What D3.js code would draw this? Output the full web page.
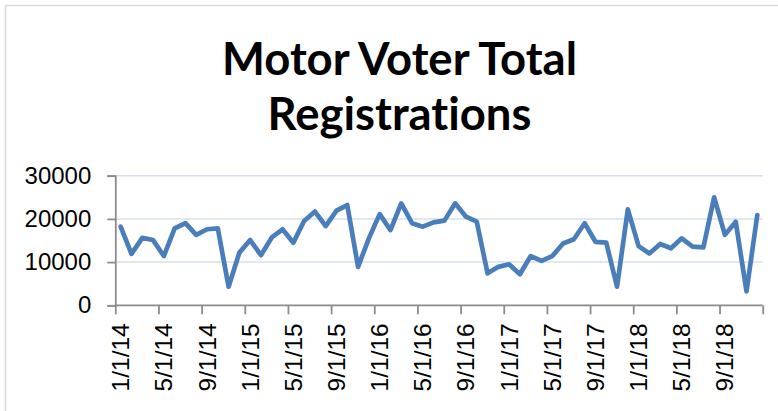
<!DOCTYPE html>
<html>
<head>
<meta charset="utf-8">
<script src="https://cdn.jsdelivr.net/npm/d3@7"></script>
<style>
  html, body { margin: 0; padding: 0; background: #fff; }
  svg { display: block; }
  text { font-variant-ligatures: none; font-feature-settings: "liga" 0, "clig" 0; }
</style>
</head>
<body>
<svg id="chart" width="778" height="411"></svg>
<script>
const titleLines = ["Motor Voter Total", "Registrations"];

const months = [
  "1/1/14","2/1/14","3/1/14","4/1/14","5/1/14","6/1/14","7/1/14","8/1/14","9/1/14","10/1/14","11/1/14","12/1/14",
  "1/1/15","2/1/15","3/1/15","4/1/15","5/1/15","6/1/15","7/1/15","8/1/15","9/1/15","10/1/15","11/1/15","12/1/15",
  "1/1/16","2/1/16","3/1/16","4/1/16","5/1/16","6/1/16","7/1/16","8/1/16","9/1/16","10/1/16","11/1/16","12/1/16",
  "1/1/17","2/1/17","3/1/17","4/1/17","5/1/17","6/1/17","7/1/17","8/1/17","9/1/17","10/1/17","11/1/17","12/1/17",
  "1/1/18","2/1/18","3/1/18","4/1/18","5/1/18","6/1/18","7/1/18","8/1/18","9/1/18","10/1/18","11/1/18","12/1/18"
];

const registrations = [
  18200, 11900, 15600, 15100, 11400, 17800, 19000, 16300, 17600, 17800, 4300, 12200,
  15100, 11600, 15700, 17600, 14500, 19500, 21700, 18350, 21900, 23200, 8900, 15500,
  21100, 17400, 23600, 19000, 18200, 19200, 19600, 23600, 20500, 19350, 7400, 8900,
  9500, 7200, 11400, 10300, 11400, 14300, 15300, 19000, 14700, 14500, 4300, 22200,
  13700, 12000, 14200, 13200, 15500, 13600, 13400, 25000, 16300, 19350, 3200, 20900
];

const xTickLabels = ["1/1/14","5/1/14","9/1/14","1/1/15","5/1/15","9/1/15","1/1/16","5/1/16","9/1/16","1/1/17","5/1/17","9/1/17","1/1/18","5/1/18","9/1/18"];
const yTickValues = [0, 10000, 20000, 30000];

const svg = d3.select("#chart");
const plot = { left: 115.3, right: 762.7, top: 175.7, bottom: 305.3 };

// chart area border
svg.append("path")
  .attr("d", `M5.5,411 V5.5 H778`)
  .attr("fill", "none")
  .attr("stroke", "#d9d9d9")
  .attr("stroke-width", 1.5);

// Title
const titleG = svg.append("g").attr("font-family", "Lato, 'Liberation Sans', sans-serif").attr("font-weight", "bold").attr("fill", "#000");
const baselines = [75, 130];
const t0 = titleG.append("text").attr("x", 399.5).attr("y", baselines[0]).attr("text-anchor", "middle").attr("font-size", 42).text(titleLines[0]);
const w0 = t0.node().getComputedTextLength();
const fs = 42 * 355 / w0;
t0.attr("font-size", fs);
titleG.append("text").attr("x", 399.5).attr("y", baselines[1]).attr("text-anchor", "middle").attr("font-size", fs).text(titleLines[1]);

const x = d3.scaleLinear().domain([0, months.length]).range([plot.left, plot.right]);
const y = d3.scaleLinear().domain([0, 30000]).range([plot.bottom, plot.top]);

// gridlines
svg.append("g").selectAll("line").data(yTickValues.filter(v => v > 0)).join("line")
  .attr("x1", plot.left).attr("x2", plot.right)
  .attr("y1", d => y(d)).attr("y2", d => y(d))
  .attr("stroke", "#d6e0f0").attr("stroke-width", 1.5);

// y axis
const yAxis = d3.axisLeft(y).tickValues(yTickValues).tickSize(8).tickPadding(16).tickFormat(d3.format("d"));
const yg = svg.append("g").attr("transform", `translate(${plot.left},0)`).call(yAxis);
yg.select(".domain").attr("stroke", "#8c8c8c").attr("stroke-width", 1.8);
yg.selectAll(".tick line").attr("stroke", "#8c8c8c").attr("stroke-width", 1.8);
yg.selectAll(".tick text").attr("font-family", "'Liberation Sans', Arial, sans-serif").attr("font-size", 24).attr("fill", "#000");

// x axis
const tickIdx = d3.range(0, months.length + 1, 4);
const xAxis = d3.axisBottom(x).tickValues(tickIdx).tickSize(9).tickFormat("");
const xg = svg.append("g").attr("transform", `translate(0,${plot.bottom})`).call(xAxis);
xg.select(".domain").attr("stroke", "#8c8c8c").attr("stroke-width", 1.8).attr("d", `M${plot.left},0H${plot.right}`);
xg.selectAll(".tick line").attr("stroke", "#8c8c8c").attr("stroke-width", 1.8);

// x labels (rotated, centered on the first month of each 4-month group)
svg.append("g").selectAll("text").data(xTickLabels).join("text")
  .attr("transform", d => `translate(${x(months.indexOf(d) + 0.5)},${plot.bottom + 18}) rotate(-90)`)
  .attr("text-anchor", "end")
  .attr("dominant-baseline", "central")
  .attr("font-family", "'Liberation Sans', Arial, sans-serif")
  .attr("font-size", 24.5)
  .attr("fill", "#000")
  .text(d => d);

// line
const line = d3.line().x((d, i) => x(i + 0.5)).y(d => y(d));
svg.append("path").datum(registrations)
  .attr("d", line)
  .attr("fill", "none")
  .attr("stroke", "#4a7ebb")
  .attr("stroke-width", 4.7)
  .attr("stroke-linejoin", "round")
  .attr("stroke-linecap", "round");
</script>
</body>
</html>
